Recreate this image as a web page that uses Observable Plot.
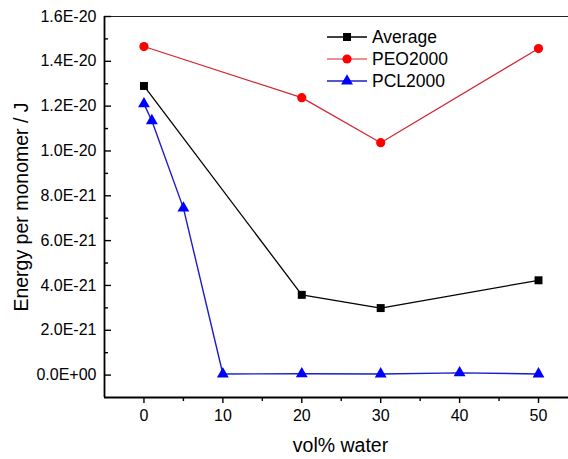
<!DOCTYPE html>
<html>
<head>
<meta charset="utf-8">
<script src="https://cdn.jsdelivr.net/npm/d3@7"></script>
<script src="https://cdn.jsdelivr.net/npm/@observablehq/plot@0.6"></script>
<style>
  html, body { margin: 0; padding: 0; background: #fff; }
  #wrap { position: relative; width: 568px; height: 459px; font-family: "Liberation Sans", Arial, sans-serif; }
  #legend { position: absolute; left: 327px; top: 26px; font-size: 17.5px; color: #000; }
  #legend .row { display: flex; align-items: center; height: 22px; }
  #legend svg { display: block; margin-right: 5px; }
</style>
</head>
<body>
<div id="wrap"><div id="legend"></div></div>
<script>
// ---- data ----
const seriesNames = ["Average", "PEO2000", "PCL2000"];
const avgX = [0, 20, 30, 50];
const avgY = [1.29e-20, 3.58e-21, 2.99e-21, 4.23e-21];
const peoX = [0, 20, 30, 50];
const peoY = [1.466e-20, 1.238e-20, 1.037e-20, 1.457e-20];
const pclX = [0, 1, 5, 10, 20, 30, 40, 50];
const pclY = [1.21e-20, 1.135e-20, 7.45e-21, 5e-23, 6e-23, 5e-23, 1.0e-22, 5e-23];
const xMajor = [0, 10, 20, 30, 40, 50];
const xMinor = [5, 15, 25, 35, 45];
const yMajor = [0, 2e-21, 4e-21, 6e-21, 8e-21, 1e-20, 1.2e-20, 1.4e-20, 1.6e-20];
const yMinor = [1e-21, 3e-21, 5e-21, 7e-21, 9e-21, 1.1e-20, 1.3e-20, 1.5e-20];
const xLabel = "vol% water";
const yLabel = "Energy per monomer / J";

// ---- styles ----
const styles = {
  Average: {stroke: "#000000", fill: "#000000", symbol: "square", r: 4.5, sw: 1.3},
  PEO2000: {stroke: "#d42430", fill: "#ff0000", symbol: "circle", r: 4.6, sw: 1.2},
  PCL2000: {stroke: "#1c1cc8", fill: "#0000ff", symbol: "triangle", r: 4.4, sw: 1.4}
};
const rows = [];
[[avgX, avgY], [peoX, peoY], [pclX, pclY]].forEach(([xs, ys], i) => {
  xs.forEach((x, j) => rows.push({series: seriesNames[i], x, y: ys[j]}));
});

function fmtY(d) {
  if (d === 0) return "0.0E+00";
  const [m, e] = d.toExponential(1).split("e");
  const sign = e[0] === "-" ? "-" : "+";
  const ex = Math.abs(+e).toString().padStart(2, "0");
  return `${m}E${sign}${ex}`;
}

const plotW = 568 - 104;
const lineMarks = [];
const dotMarks = [];
for (const s of seriesNames) {
  const st = styles[s];
  const data = rows.filter(d => d.series === s);
  lineMarks.push(Plot.line(data, {x: "x", y: "y", stroke: st.stroke, strokeWidth: st.sw}));
  dotMarks.push(Plot.dot(data, {x: "x", y: "y", symbol: () => st.symbol, fill: st.fill, stroke: "none", r: st.r}));
}

const chart = Plot.plot({
  width: 568,
  height: 459,
  marginLeft: 104,
  marginRight: 0,
  marginTop: 16,
  marginBottom: 62,
  style: {fontFamily: "'Liberation Sans', Arial, sans-serif", fontSize: "16px", background: "transparent", color: "#000"},
  symbol: {type: "identity"},
  x: {domain: [-5, 53.8]},
  y: {domain: [-1e-21, 1.6e-20]},
  marks: [
    // axes frame lines
    Plot.ruleY([1.6e-20], {stroke: "#222", strokeWidth: 1}),
    Plot.ruleX([-5], {stroke: "#000", strokeWidth: 1.8}),
    Plot.ruleY([-1e-21], {stroke: "#000", strokeWidth: 1.8}),
    // x axis (outward ticks)
    Plot.axisX(xMajor, {tickSize: 6, tickPadding: 6, tickFormat: d => d, label: null, strokeWidth: 1.4, fontSize: 16}),
    Plot.axisX(xMinor, {tickSize: 4, tickFormat: () => "", label: null, strokeWidth: 1.4}),
    // y axis labels (ticks drawn inward separately)
    Plot.axisY(yMajor, {tickSize: 0, tickPadding: 8, tickFormat: fmtY, label: null, fontSize: 16}),
    Plot.tickY(yMajor, {y: d => d, insetRight: plotW - 7, stroke: "#000", strokeWidth: 1.4}),
    Plot.tickY(yMinor, {y: d => d, insetRight: plotW - 4, stroke: "#000", strokeWidth: 1.4}),
    // axis titles
    Plot.text([yLabel], {text: d => d, frameAnchor: "left", textAnchor: "middle", dx: -83, rotate: -90, fontSize: 19.5}),
    Plot.text([xLabel], {text: d => d, frameAnchor: "bottom", textAnchor: "middle", dx: 4, dy: 54, fontSize: 19.5}),
    ...lineMarks,
    ...dotMarks
  ]
});
document.getElementById("wrap").prepend(chart);

// ---- legend ----
const legend = document.getElementById("legend");
for (const s of seriesNames) {
  const st = styles[s];
  const row = document.createElement("div");
  row.className = "row";
  const svg = d3.create("svg").attr("width", 40).attr("height", 22);
  svg.append("line").attr("x1", 0).attr("x2", 40).attr("y1", 11).attr("y2", 11)
    .attr("stroke", st.stroke).attr("stroke-width", st.sw);
  const sym = st.symbol === "square" ? d3.symbolSquare : st.symbol === "circle" ? d3.symbolCircle : d3.symbolTriangle;
  svg.append("path").attr("transform", "translate(20,11)")
    .attr("d", d3.symbol(sym, Math.PI * st.r * st.r)()).attr("fill", st.fill);
  row.appendChild(svg.node());
  const t = document.createElement("span");
  t.textContent = s;
  row.appendChild(t);
  legend.appendChild(row);
}
</script>
</body>
</html>
